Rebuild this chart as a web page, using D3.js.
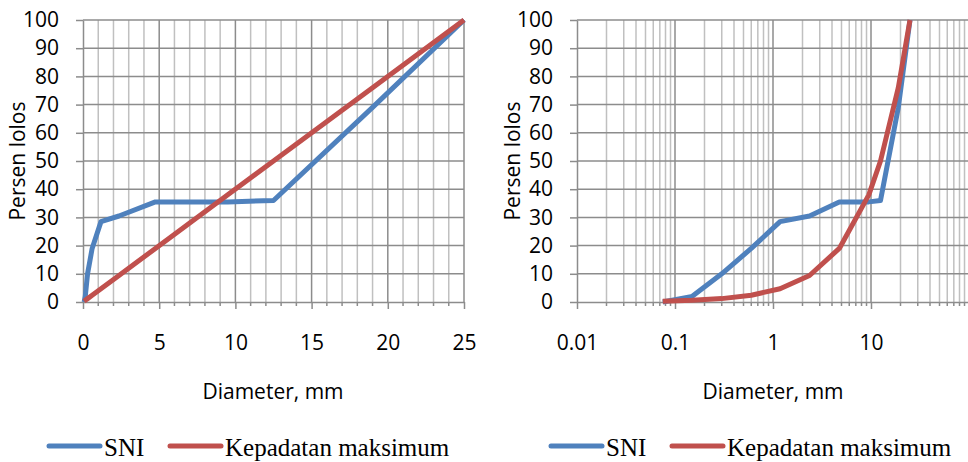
<!DOCTYPE html>
<html>
<head>
<meta charset="utf-8">
<script src="https://cdn.jsdelivr.net/npm/d3@7"></script>
<style>
  body { margin: 0; background: #fff; }
  svg { display: block; }
</style>
</head>
<body>
<div id="main"></div>
<script>
// data
var sieve = [0.075, 0.15, 0.3, 0.6, 1.18, 2.36, 4.75, 9.5, 12.5, 19, 25];
var sni = [0, 2, 10, 19, 28.5, 30.5, 35.5, 35.5, 36, 69, 100];
var kepadatan = [0.3, 0.6, 1.2, 2.4, 4.7, 9.4, 19, 38, 50, 76, 100];
var seriesNames = ["SNI", "Kepadatan maksimum"];
var yTicks = [0, 10, 20, 30, 40, 50, 60, 70, 80, 90, 100];
var linTicks = [0, 5, 10, 15, 20, 25];
var logTicks = [0.01, 0.1, 1, 10];

var width = 968, height = 462;
var blue = "#4f81bd", red = "#c0504d";
var gridMajor = "#8c8c8c", gridMinor = "#c0c0c0";
var tickFont = "'Open Sans', sans-serif";
var fontSize = 21;

var svg = d3.select("#main").append("svg")
    .attr("width", width)
    .attr("height", height);

var y = d3.scaleLinear().domain([0, 100]).range([302, 20]);

var rows = sieve.map(function(d, i) { return {d: d, sni: sni[i], kep: kepadatan[i]}; });

function drawChart(opt) {
    var g = svg.append("g");
    var x = opt.x;
    var x0 = x.range()[0], x1 = x.range()[1];

    // minor vertical grid
    g.selectAll(".vmin").data(opt.minor).enter().append("line")
        .attr("x1", x).attr("x2", x)
        .attr("y1", y(0)).attr("y2", y(100))
        .attr("stroke", gridMinor).attr("stroke-width", 1.5);
    // major vertical grid
    g.selectAll(".vmaj").data(opt.major).enter().append("line")
        .attr("x1", x).attr("x2", x)
        .attr("y1", y(0)).attr("y2", y(100))
        .attr("stroke", gridMajor).attr("stroke-width", 1.5);
    // horizontal grid
    g.selectAll(".h").data(yTicks.slice(1)).enter().append("line")
        .attr("x1", x0).attr("x2", x1)
        .attr("y1", y).attr("y2", y)
        .attr("stroke", gridMajor).attr("stroke-width", 1.5);

    // minor ticks on x axis
    g.selectAll(".mt").data(opt.minor).enter().append("line")
        .attr("x1", x).attr("x2", x)
        .attr("y1", y(0)).attr("y2", y(0) + 4)
        .attr("stroke", gridMajor).attr("stroke-width", 1.5);

    var xa = g.append("g")
        .attr("transform", "translate(0," + y(0) + ")")
        .call(d3.axisBottom(x).tickValues(opt.ticks).tickSize(7).tickPadding(26)
            .tickFormat(opt.fmt).tickSizeOuter(0));
    xa.select(".domain").attr("stroke", gridMajor).attr("stroke-width", 1.5);
    xa.selectAll(".tick line").attr("stroke", gridMajor).attr("stroke-width", 1.5);
    xa.selectAll("text").attr("font-family", tickFont).attr("font-size", fontSize).attr("fill", "#000");

    var ya = g.append("g")
        .attr("transform", "translate(" + x0 + ",0)")
        .call(d3.axisLeft(y).tickValues(yTicks).tickSize(7).tickPadding(17).tickSizeOuter(0));
    ya.select(".domain").attr("stroke", gridMajor).attr("stroke-width", 1.5);
    ya.selectAll(".tick line").attr("stroke", gridMajor).attr("stroke-width", 1.5);
    ya.selectAll("text").attr("font-family", tickFont).attr("font-size", fontSize).attr("fill", "#000");

    // series
    var line = d3.line().x(function(d) { return x(d.d); });
    g.append("path").datum(opt.rows)
        .attr("fill", "none").attr("stroke", blue).attr("stroke-width", 5)
        .attr("stroke-linejoin", "round")
        .attr("d", line.y(function(d) { return y(d.sni); }));
    g.append("path").datum(opt.rows)
        .attr("fill", "none").attr("stroke", red).attr("stroke-width", 5)
        .attr("stroke-linejoin", "round")
        .attr("d", line.y(function(d) { return y(d.kep); }));

    // axis titles
    g.append("text")
        .attr("transform", "translate(" + opt.yTitleX + ",161) rotate(-90)")
        .attr("text-anchor", "middle")
        .attr("font-family", tickFont).attr("font-size", fontSize)
        .text("Persen lolos");
    g.append("text")
        .attr("x", opt.xTitleX).attr("y", 399)
        .attr("text-anchor", "middle")
        .attr("font-family", tickFont).attr("font-size", fontSize)
        .text("Diameter, mm");

    // legend
    var lx = opt.legendX;
    var items = [{name: seriesNames[0], c: blue, x: lx}, {name: seriesNames[1], c: red, x: lx + 121}];
    items.forEach(function(it) {
        g.append("line")
            .attr("x1", it.x).attr("x2", it.x + 51)
            .attr("y1", 446).attr("y2", 446)
            .attr("stroke", it.c).attr("stroke-width", 5)
            .attr("stroke-linecap", "round");
        g.append("text")
            .attr("x", it.x + 55).attr("y", 456)
            .attr("font-family", "'Liberation Serif', 'Times New Roman', serif")
            .attr("font-size", 25)
            .text(it.name);
    });
}

// left: linear
var xLin = d3.scaleLinear().domain([0, 25]).range([83, 464]);
drawChart({
    x: xLin,
    rows: rows,
    ticks: linTicks,
    major: linTicks.slice(1),
    minor: d3.range(1, 25).filter(function(v) { return v % 5 !== 0; }),
    fmt: d3.format("d"),
    yTitleX: 25,
    xTitleX: 273,
    legendX: 49
});

// right: log
var xLog = d3.scaleLog().domain([0.01, 100]).range([577, 969]);
var logMinor = [];
[0.01, 0.1, 1, 10].forEach(function(dec) {
    for (var k = 2; k <= 9; k++) logMinor.push(dec * k);
});
drawChart({
    x: xLog,
    rows: rows,
    ticks: logTicks,
    major: [0.1, 1, 10],
    minor: logMinor,
    fmt: function(v) { return String(v); },
    yTitleX: 520,
    xTitleX: 773,
    legendX: 551
});
</script>
</body>
</html>
